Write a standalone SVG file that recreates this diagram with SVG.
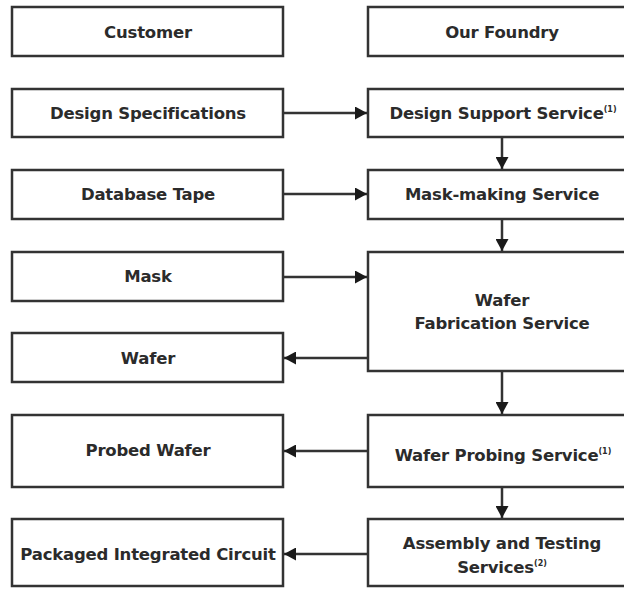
<svg xmlns="http://www.w3.org/2000/svg" width="624" height="590" viewBox="0 0 624 590">
  <style>
    .box { fill: #ffffff; stroke: #333333; stroke-width: 2.5; }
    .lbl { font-family: "DejaVu Sans", "Liberation Sans", Arial, sans-serif; font-weight: bold; font-size: 16.5px; fill: #2b2b2b; text-anchor: middle; letter-spacing: -0.2px; }
    .sup { font-size: 8px; letter-spacing: 0; }
    .wire { fill: none; stroke: #333333; stroke-width: 2.5; }
  </style>
  <defs>
    <marker id="arrow" viewBox="0 0 12 13" refX="12" refY="6.5" markerWidth="12" markerHeight="13" markerUnits="userSpaceOnUse" orient="auto">
      <path d="M0,0 L12,6.5 L0,13 Z" fill="#1a1a1a"/>
    </marker>
  </defs>
  <rect width="624" height="590" fill="#ffffff"/>

  <!-- customer column -->
  <g id="customer">
    <rect class="box" x="12" y="7" width="271" height="49"/>
    <text class="lbl" x="148" y="38">Customer</text>
  </g>
  <g id="design-specifications">
    <rect class="box" x="12" y="89" width="271" height="48"/>
    <text class="lbl" x="148" y="119">Design Specifications</text>
  </g>
  <g id="database-tape">
    <rect class="box" x="12" y="170" width="271" height="49"/>
    <text class="lbl" x="148" y="200">Database Tape</text>
  </g>
  <g id="mask">
    <rect class="box" x="12" y="252" width="271" height="49"/>
    <text class="lbl" x="148" y="282">Mask</text>
  </g>
  <g id="wafer">
    <rect class="box" x="12" y="333" width="271" height="49"/>
    <text class="lbl" x="148" y="364">Wafer</text>
  </g>
  <g id="probed-wafer">
    <rect class="box" x="12" y="415" width="271" height="72"/>
    <text class="lbl" x="148" y="456">Probed Wafer</text>
  </g>
  <g id="packaged-ic">
    <rect class="box" x="12" y="519" width="271" height="67"/>
    <text class="lbl" x="148" y="560">Packaged Integrated Circuit</text>
  </g>

  <!-- foundry column (boxes run off the right edge) -->
  <g id="our-foundry">
    <rect class="box" x="368" y="7" width="270" height="49"/>
    <text class="lbl" x="502" y="38">Our Foundry</text>
  </g>
  <g id="design-support">
    <rect class="box" x="368" y="89" width="270" height="48"/>
    <text class="lbl" x="503" y="119">Design Support Service<tspan class="sup" dy="-7">(1)</tspan></text>
  </g>
  <g id="mask-making">
    <rect class="box" x="368" y="170" width="270" height="49"/>
    <text class="lbl" x="502" y="200">Mask-making Service</text>
  </g>
  <g id="wafer-fabrication">
    <rect class="box" x="368" y="252" width="270" height="119"/>
    <text class="lbl" x="502" y="306">Wafer</text>
    <text class="lbl" x="502" y="329">Fabrication Service</text>
  </g>
  <g id="wafer-probing">
    <rect class="box" x="368" y="415" width="270" height="72"/>
    <text class="lbl" x="503" y="461">Wafer Probing Service<tspan class="sup" dy="-7">(1)</tspan></text>
  </g>
  <g id="assembly-testing">
    <rect class="box" x="368" y="519" width="270" height="67"/>
    <text class="lbl" x="502" y="549">Assembly and Testing</text>
    <text class="lbl" x="502" y="573">Services<tspan class="sup" dy="-7">(2)</tspan></text>
  </g>

  <!-- connectors -->
  <g id="connectors">
    <line class="wire" x1="283" y1="113" x2="367" y2="113" marker-end="url(#arrow)"/>
    <line class="wire" x1="283" y1="194" x2="367" y2="194" marker-end="url(#arrow)"/>
    <line class="wire" x1="283" y1="277" x2="367" y2="277" marker-end="url(#arrow)"/>
    <line class="wire" x1="368" y1="358" x2="284" y2="358" marker-end="url(#arrow)"/>
    <line class="wire" x1="368" y1="451" x2="284" y2="451" marker-end="url(#arrow)"/>
    <line class="wire" x1="368" y1="554" x2="284" y2="554" marker-end="url(#arrow)"/>
    <line class="wire" x1="502" y1="137" x2="502" y2="169" marker-end="url(#arrow)"/>
    <line class="wire" x1="502" y1="219" x2="502" y2="251" marker-end="url(#arrow)"/>
    <line class="wire" x1="502" y1="371" x2="502" y2="414" marker-end="url(#arrow)"/>
    <line class="wire" x1="502" y1="487" x2="502" y2="518" marker-end="url(#arrow)"/>
  </g>
</svg>
